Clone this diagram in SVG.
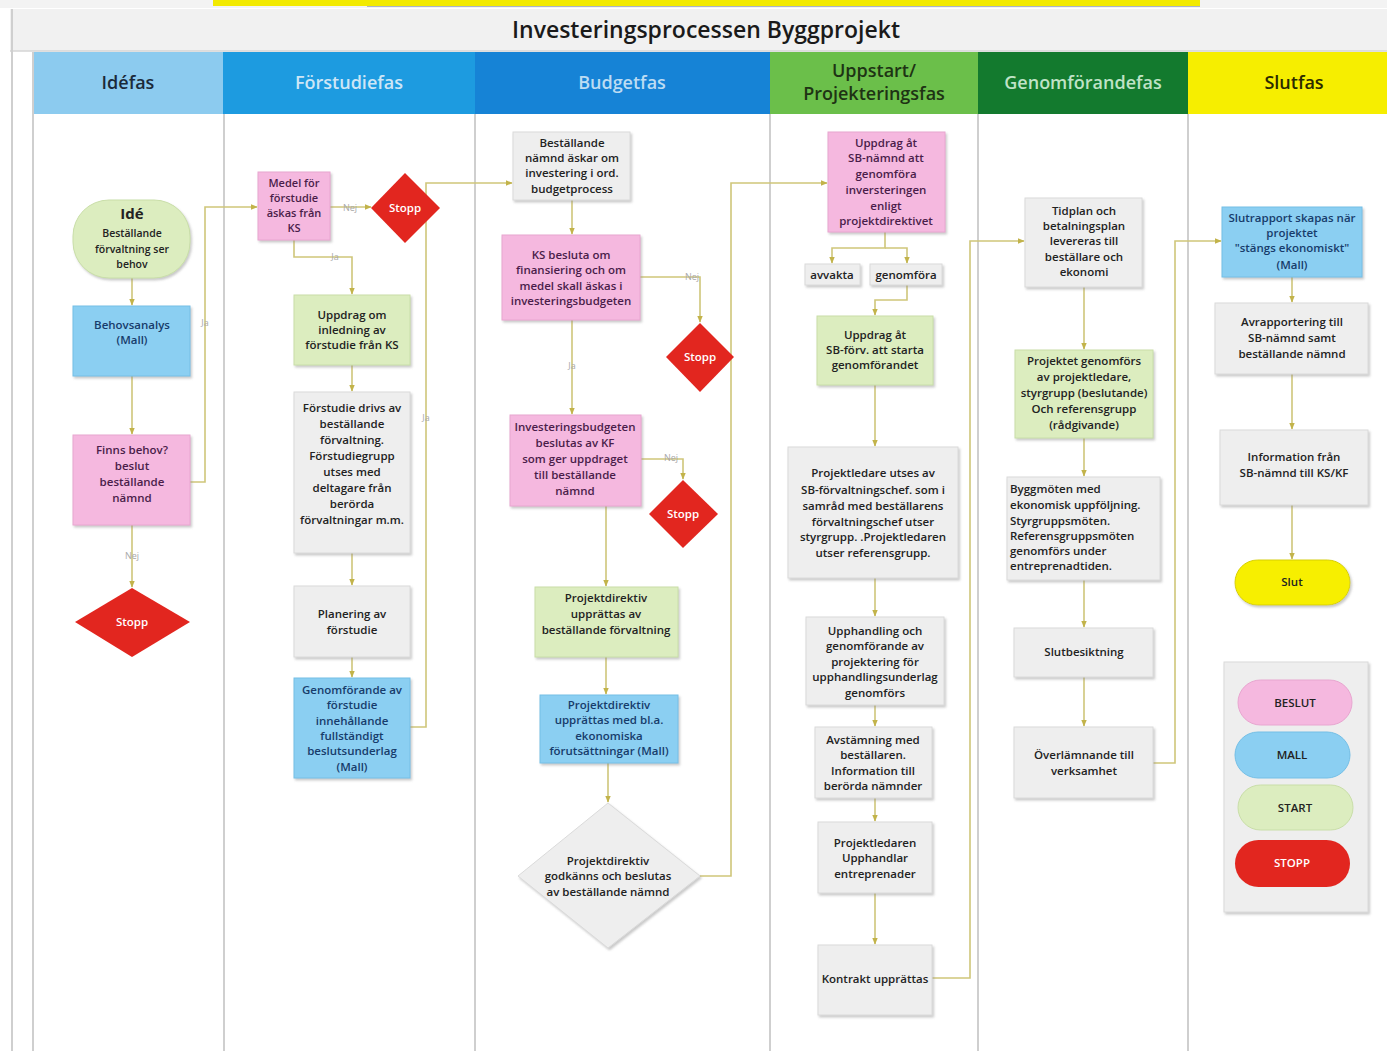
<svg xmlns="http://www.w3.org/2000/svg" width="1387" height="1051" viewBox="0 0 1387 1051">
<defs>
<style>
text{font-family:"Open Sans","Noto Sans","Liberation Sans",sans-serif;font-weight:600;font-size:11.5px;fill:#222222;text-anchor:middle}
.hd{font-size:18px;font-weight:600}
.g{fill:#eeeeee;stroke:#dadada;stroke-width:1}
.p{fill:#f5b8df;stroke:#e8a6d0;stroke-width:1}
.b{fill:#8bcff2;stroke:#74bfe6;stroke-width:1}
.l{fill:#dcedbf;stroke:#c9dea8;stroke-width:1}
.r{fill:#e2261f}
.y{fill:#f7ef00}
.pt{fill:#4a1d4a}
.bt{fill:#173c6b}
.wt{fill:#ffffff}
.lbl{font-size:9px;font-weight:400;fill:#a8a8a8}
.c{fill:none;stroke:#cfc67a;stroke-width:1.6}
.lane{stroke:#cfcfcf;stroke-width:2}
</style>
<marker id="a" viewBox="0 0 10 10" refX="9" refY="5" markerWidth="7" markerHeight="7" orient="auto-start-reverse" markerUnits="userSpaceOnUse">
<path d="M0,1 L10,5 L0,9 Z" fill="#c2b34a"/>
</marker>
<filter id="sh" x="-10%" y="-10%" width="130%" height="130%">
<feDropShadow dx="1.5" dy="2" stdDeviation="1.2" flood-color="#8a8a8a" flood-opacity="0.45"/>
</filter>
</defs>

<rect width="1387" height="1051" fill="#ffffff"/>
<rect x="0" y="0" width="1387" height="8" fill="#f3f3f3"/>
<rect x="213" y="0" width="987" height="6" fill="#f2ea00"/>
<line x1="367" y1="6.5" x2="1200" y2="6.5" stroke="#a9b4c8" stroke-width="1"/>

<rect x="10" y="9" width="1377" height="42" fill="#f1f1f1"/>
<line x1="10" y1="51" x2="1387" y2="51" stroke="#d5d5d5" stroke-width="1.5"/>
<text x="706" y="38" style="font-size:23px;font-weight:600;fill:#1a1a1a">Investeringsprocessen Byggprojekt</text>

<g id="headers">
<rect x="33" y="52" width="190" height="62" fill="#8ccbef"/>
<rect x="223" y="52" width="252" height="62" fill="#1d9be0"/>
<rect x="475" y="52" width="295" height="62" fill="#1683d6"/>
<rect x="770" y="52" width="208" height="62" fill="#6bbf4a"/>
<rect x="978" y="52" width="210" height="62" fill="#137a2e"/>
<rect x="1188" y="52" width="199" height="62" fill="#f6ee00"/>
<text class="hd" x="128" y="89" style="fill:#1b2a3a">Idéfas</text>
<text class="hd" x="349" y="89" style="fill:#cde6f6">Förstudiefas</text>
<text class="hd" x="622" y="89" style="fill:#bcdcf3">Budgetfas</text>
<text class="hd" x="874" y="77" style="fill:#1e3314">Uppstart/</text>
<text class="hd" x="874" y="100" style="fill:#1e3314">Projekteringsfas</text>
<text class="hd" x="1083" y="89" style="fill:#bfe3c6">Genomförandefas</text>
<text class="hd" x="1294" y="89" style="fill:#2a2a00">Slutfas</text>
</g>

<g id="lanes">
<line class="lane" x1="12" y1="9" x2="12" y2="1051"/>
<line class="lane" x1="33" y1="52" x2="33" y2="1051"/>
<line class="lane" x1="224" y1="114" x2="224" y2="1051"/>
<line class="lane" x1="475" y1="114" x2="475" y2="1051"/>
<line class="lane" x1="770" y1="114" x2="770" y2="1051"/>
<line class="lane" x1="978" y1="114" x2="978" y2="1051"/>
<line class="lane" x1="1188" y1="114" x2="1188" y2="1051"/>
</g>

<g id="connectors">
<path class="c" d="M132 278 V305" marker-end="url(#a)"/>
<path class="c" d="M132 376 V434" marker-end="url(#a)"/>
<path class="c" d="M132 525 V587" marker-end="url(#a)"/>
<path class="c" d="M190 482 H205 V207 H257" marker-end="url(#a)"/>
<path class="c" d="M330 207 H371" marker-end="url(#a)"/>
<path class="c" d="M294 240 V257 H352 V294" marker-end="url(#a)"/>
<path class="c" d="M352 365 V391" marker-end="url(#a)"/>
<path class="c" d="M352 553 V585" marker-end="url(#a)"/>
<path class="c" d="M352 657 V677" marker-end="url(#a)"/>
<path class="c" d="M410 727 H426 V183 H512" marker-end="url(#a)"/>
<path class="c" d="M572 200 V234" marker-end="url(#a)"/>
<path class="c" d="M640 277 H700 V322" marker-end="url(#a)"/>
<path class="c" d="M572 320 V414" marker-end="url(#a)"/>
<path class="c" d="M641 459 H683 V479" marker-end="url(#a)"/>
<path class="c" d="M606 506 V586" marker-end="url(#a)"/>
<path class="c" d="M606 657 V694" marker-end="url(#a)"/>
<path class="c" d="M608 763 V802" marker-end="url(#a)"/>
<path class="c" d="M700 876 H731 V183 H827" marker-end="url(#a)"/>
<path class="c" d="M885 232 V248 H832 V263" marker-end="url(#a)"/>
<path class="c" d="M885 248 H907 V263" marker-end="url(#a)"/>
<path class="c" d="M907 285 V300 H875 V315" marker-end="url(#a)"/>
<path class="c" d="M875 385 V446" marker-end="url(#a)"/>
<path class="c" d="M875 578 V616" marker-end="url(#a)"/>
<path class="c" d="M875 705 V726" marker-end="url(#a)"/>
<path class="c" d="M875 798 V821" marker-end="url(#a)"/>
<path class="c" d="M875 893 V944" marker-end="url(#a)"/>
<path class="c" d="M932 978 H970 V241 H1024" marker-end="url(#a)"/>
<path class="c" d="M1084 287 V349" marker-end="url(#a)"/>
<path class="c" d="M1084 438 V476" marker-end="url(#a)"/>
<path class="c" d="M1084 580 V627" marker-end="url(#a)"/>
<path class="c" d="M1084 677 V726" marker-end="url(#a)"/>
<path class="c" d="M1153 763 H1175 V241 H1221" marker-end="url(#a)"/>
<path class="c" d="M1292 277 V302" marker-end="url(#a)"/>
<path class="c" d="M1292 374 V429" marker-end="url(#a)"/>
<path class="c" d="M1292 505 V559" marker-end="url(#a)"/>
<text class="lbl" x="132" y="559">Nej</text>
<text class="lbl" x="205" y="326">Ja</text>
<text class="lbl" x="350" y="211">Nej</text>
<text class="lbl" x="335" y="260">Ja</text>
<text class="lbl" x="426" y="421">Ja</text>
<text class="lbl" x="692" y="280">Nej</text>
<text class="lbl" x="572" y="369">Ja</text>
<text class="lbl" x="671" y="461">Nej</text>
</g>

<g id="n-ide"><rect class="l" x="73" y="200" width="117" height="78" rx="36" filter="url(#sh)"/>
<text x="132" y="219" style="font-size:15px;font-weight:700">Idé</text>
<text x="132" y="237" style="font-size:10.5px">Beställande</text>
<text x="132" y="253" style="font-size:10.5px">förvaltning ser</text>
<text x="132" y="268" style="font-size:10.5px">behov</text></g>
<g id="n-behov"><rect class="b" x="73" y="306" width="117" height="70" filter="url(#sh)"/>
<text class="bt" x="132" y="329">Behovsanalys</text><text class="bt" x="132" y="344">(Mall)</text></g>
<g id="n-finns"><rect class="p" x="73" y="435" width="117" height="90" filter="url(#sh)"/>
<text class="pt" x="132" y="454">Finns behov?</text><text class="pt" x="132" y="470">beslut</text><text class="pt" x="132" y="486">beställande</text><text class="pt" x="132" y="502">nämnd</text></g>
<g id="n-stopp1"><path class="r" d="M132 588 L190 622 L132 657 L75 622 Z"/>
<text class="wt" x="132" y="626">Stopp</text></g>

<g id="n-medel"><rect class="p" x="258" y="172" width="72" height="68" filter="url(#sh)"/>
<text class="pt" x="294" y="187" style="font-size:11px">Medel för</text><text class="pt" x="294" y="202" style="font-size:11px">förstudie</text><text class="pt" x="294" y="217" style="font-size:11px">äskas från</text><text class="pt" x="294" y="232" style="font-size:11px">KS</text></g>
<g id="n-stopp2"><path class="r" d="M405 173 L440 208 L405 243 L371 208 Z"/>
<text class="wt" x="405" y="212">Stopp</text></g>
<g id="n-uppdragks"><rect class="l" x="294" y="295" width="116" height="70" filter="url(#sh)"/>
<text x="352" y="319">Uppdrag om</text><text x="352" y="334">inledning av</text><text x="352" y="349">förstudie från KS</text></g>
<g id="n-forstudie"><rect class="g" x="294" y="392" width="116" height="161" filter="url(#sh)"/>
<text x="352" y="412">Förstudie drivs av</text><text x="352" y="428">beställande</text><text x="352" y="444">förvaltning.</text><text x="352" y="460">Förstudiegrupp</text><text x="352" y="476">utses med</text><text x="352" y="492">deltagare från</text><text x="352" y="508">berörda</text><text x="352" y="524">förvaltningar m.m.</text></g>
<g id="n-planering"><rect class="g" x="294" y="586" width="116" height="71" filter="url(#sh)"/>
<text x="352" y="618">Planering av</text><text x="352" y="634">förstudie</text></g>
<g id="n-genomfforst"><rect class="b" x="294" y="678" width="116" height="100" filter="url(#sh)"/>
<text class="bt" x="352" y="694">Genomförande av</text><text class="bt" x="352" y="709">förstudie</text><text class="bt" x="352" y="725">innehållande</text><text class="bt" x="352" y="740">fullständigt</text><text class="bt" x="352" y="755">beslutsunderlag</text><text class="bt" x="352" y="771">(Mall)</text></g>

<g id="n-bestallande"><rect class="g" x="513" y="132" width="117" height="68" filter="url(#sh)"/>
<text x="572" y="147">Beställande</text><text x="572" y="162">nämnd äskar om</text><text x="572" y="177">investering i ord.</text><text x="572" y="193">budgetprocess</text></g>
<g id="n-ks"><rect class="p" x="502" y="235" width="138" height="85" filter="url(#sh)"/>
<text class="pt" x="571" y="259">KS besluta om</text><text class="pt" x="571" y="274">finansiering och om</text><text class="pt" x="571" y="290">medel skall äskas i</text><text class="pt" x="571" y="305">investeringsbudgeten</text></g>
<g id="n-stopp3"><path class="r" d="M700 323 L734 357 L700 392 L666 357 Z"/>
<text class="wt" x="700" y="361">Stopp</text></g>
<g id="n-invbudget"><rect class="p" x="510" y="415" width="131" height="91" filter="url(#sh)"/>
<text class="pt" x="575" y="431">Investeringsbudgeten</text><text class="pt" x="575" y="447">beslutas av KF</text><text class="pt" x="575" y="463">som ger uppdraget</text><text class="pt" x="575" y="479">till beställande</text><text class="pt" x="575" y="495">nämnd</text></g>
<g id="n-stopp4"><path class="r" d="M683 480 L718 514 L683 548 L649 514 Z"/>
<text class="wt" x="683" y="518">Stopp</text></g>
<g id="n-projdir"><rect class="l" x="535" y="587" width="143" height="70" filter="url(#sh)"/>
<text x="606" y="602">Projektdirektiv</text><text x="606" y="618">upprättas av</text><text x="606" y="634">beställande förvaltning</text></g>
<g id="n-projmall"><rect class="b" x="540" y="695" width="138" height="68" filter="url(#sh)"/>
<text class="bt" x="609" y="709">Projektdirektiv</text><text class="bt" x="609" y="724">upprättas med bl.a.</text><text class="bt" x="609" y="740">ekonomiska</text><text class="bt" x="609" y="755">förutsättningar (Mall)</text></g>
<g id="n-godkanns"><path class="g" d="M608 803 L700 876 L608 948 L518 876 Z" filter="url(#sh)"/>
<text x="608" y="865">Projektdirektiv</text><text x="608" y="880">godkänns och beslutas</text><text x="608" y="896">av beställande nämnd</text></g>

<g id="n-uppdragsbn"><rect class="p" x="828" y="132" width="117" height="100" filter="url(#sh)"/>
<text class="pt" x="886" y="147">Uppdrag åt</text><text class="pt" x="886" y="162">SB-nämnd att</text><text class="pt" x="886" y="178">genomföra</text><text class="pt" x="886" y="194">inversteringen</text><text class="pt" x="886" y="210">enligt</text><text class="pt" x="886" y="225">projektdirektivet</text></g>
<g id="n-avvakta"><rect class="g" x="805" y="264" width="55" height="21" filter="url(#sh)"/>
<text x="832" y="279">avvakta</text></g>
<g id="n-genomfora"><rect class="g" x="870" y="264" width="72" height="21" filter="url(#sh)"/>
<text x="906" y="279">genomföra</text></g>
<g id="n-uppdragsbf"><rect class="l" x="817" y="316" width="116" height="69" filter="url(#sh)"/>
<text x="875" y="339">Uppdrag åt</text><text x="875" y="354">SB-förv. att starta</text><text x="875" y="369">genomförandet</text></g>
<g id="n-projektledare"><rect class="g" x="788" y="447" width="170" height="131" filter="url(#sh)"/>
<text x="873" y="477">Projektledare utses av</text><text x="873" y="494">SB-förvaltningschef. som i</text><text x="873" y="510">samråd med beställarens</text><text x="873" y="526">förvaltningschef utser</text><text x="873" y="541">styrgrupp. .Projektledaren</text><text x="873" y="557">utser referensgrupp.</text></g>
<g id="n-upphandling"><rect class="g" x="806" y="617" width="138" height="88" filter="url(#sh)"/>
<text x="875" y="635">Upphandling och</text><text x="875" y="650">genomförande av</text><text x="875" y="666">projektering för</text><text x="875" y="681">upphandlingsunderlag</text><text x="875" y="697">genomförs</text></g>
<g id="n-avstamning"><rect class="g" x="815" y="727" width="117" height="71" filter="url(#sh)"/>
<text x="873" y="744">Avstämning  med</text><text x="873" y="759">beställaren.</text><text x="873" y="775">Information till</text><text x="873" y="790">berörda nämnder</text></g>
<g id="n-upphandlar"><rect class="g" x="818" y="822" width="114" height="71" filter="url(#sh)"/>
<text x="875" y="847">Projektledaren</text><text x="875" y="862">Upphandlar</text><text x="875" y="878">entreprenader</text></g>
<g id="n-kontrakt"><rect class="g" x="818" y="945" width="114" height="70" filter="url(#sh)"/>
<text x="875" y="983">Kontrakt upprättas</text></g>

<g id="n-tidplan"><rect class="g" x="1025" y="198" width="117" height="89" filter="url(#sh)"/>
<text x="1084" y="215">Tidplan och</text><text x="1084" y="230">betalningsplan</text><text x="1084" y="245">levereras till</text><text x="1084" y="261">beställare och</text><text x="1084" y="276">ekonomi</text></g>
<g id="n-projektet"><rect class="l" x="1015" y="350" width="138" height="88" filter="url(#sh)"/>
<text x="1084" y="365">Projektet genomförs</text><text x="1084" y="381">av projektledare,</text><text x="1084" y="397">styrgrupp (beslutande)</text><text x="1084" y="413">Och referensgrupp</text><text x="1084" y="429">(rådgivande)</text></g>
<g id="n-byggmoten"><rect class="g" x="1007" y="477" width="153" height="103" filter="url(#sh)"/>
<text x="1010" y="493" style="text-anchor:start">Byggmöten med</text><text x="1010" y="509" style="text-anchor:start">ekonomisk uppföljning.</text><text x="1010" y="525" style="text-anchor:start">Styrgruppsmöten.</text><text x="1010" y="540" style="text-anchor:start">Referensgruppsmöten</text><text x="1010" y="555" style="text-anchor:start">genomförs under</text><text x="1010" y="570" style="text-anchor:start">entreprenadtiden.</text></g>
<g id="n-slutbesiktning"><rect class="g" x="1014" y="628" width="139" height="49" filter="url(#sh)"/>
<text x="1084" y="656">Slutbesiktning</text></g>
<g id="n-overlamnande"><rect class="g" x="1014" y="727" width="139" height="71" filter="url(#sh)"/>
<text x="1084" y="759">Överlämnande till</text><text x="1084" y="775">verksamhet</text></g>

<g id="n-slutrapport"><rect class="b" x="1222" y="207" width="140" height="70" filter="url(#sh)"/>
<text class="bt" x="1292" y="222">Slutrapport skapas när</text><text class="bt" x="1292" y="237">projektet</text><text class="bt" x="1292" y="252">"stängs ekonomiskt"</text><text class="bt" x="1292" y="269">(Mall)</text></g>
<g id="n-avrapportering"><rect class="g" x="1215" y="303" width="153" height="71" filter="url(#sh)"/>
<text x="1292" y="326">Avrapportering till</text><text x="1292" y="342">SB-nämnd samt</text><text x="1292" y="358">beställande nämnd</text></g>
<g id="n-information"><rect class="g" x="1220" y="430" width="148" height="75" filter="url(#sh)"/>
<text x="1294" y="461">Information från</text><text x="1294" y="477">SB-nämnd till KS/KF</text></g>
<g id="n-slut"><rect class="y" x="1235" y="560" width="115" height="45" rx="22.5" stroke="#d8d000" filter="url(#sh)"/>
<text x="1292" y="586">Slut</text></g>

<g id="legend"><rect class="g" x="1224" y="662" width="144" height="250" filter="url(#sh)"/>
<rect class="p" x="1238" y="680" width="114" height="45" rx="22.5"/><text x="1295" y="707">BESLUT</text>
<rect class="b" x="1235" y="732" width="115" height="46" rx="23"/><text x="1292" y="759">MALL</text>
<rect class="l" x="1238" y="785" width="115" height="45" rx="22.5"/><text x="1295" y="812">START</text>
<rect class="r" x="1235" y="840" width="115" height="47" rx="23.5"/><text class="wt" x="1292" y="867">STOPP</text></g>
</svg>
